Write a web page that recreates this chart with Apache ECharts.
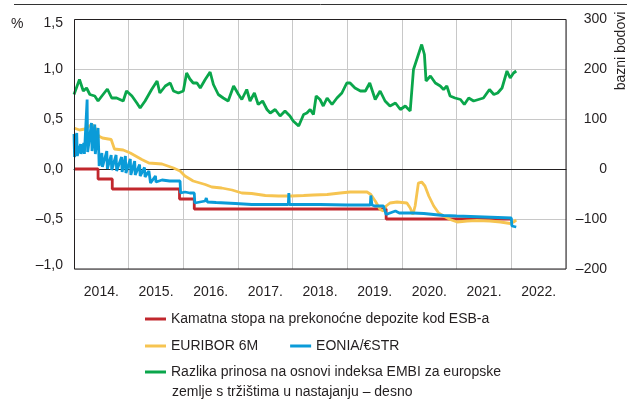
<!DOCTYPE html>
<html>
<head>
<meta charset="utf-8">
<script src="https://cdn.jsdelivr.net/npm/echarts@6.0.0/dist/echarts.min.js"></script>
<style>
  html, body { margin: 0; padding: 0; background: #fff; }
  #chart { width: 629px; height: 401px; }
</style>
</head>
<body>
<div id="chart"></div>
<script>
// year labels (one band per year)
var years = ['2014.', '2015.', '2016.', '2017.', '2018.', '2019.', '2020.', '2021.', '2022.'];

// [decimal year, %] ESB deposit facility rate (steps)
var depositRate = [
  [2014.00, 0], [2014.44, -0.1], [2014.70, -0.2], [2015.93, -0.3],
  [2016.20, -0.4], [2019.71, -0.5], [2022.01, -0.5]
];

// [decimal year, %] EURIBOR 6M
var euribor6m = [
  [2014.00, 0.41], [2014.10, 0.39], [2014.20, 0.40], [2014.28, 0.43], [2014.33, 0.445],
  [2014.38, 0.42], [2014.45, 0.33], [2014.52, 0.31], [2014.68, 0.295], [2014.74, 0.20],
  [2014.90, 0.19], [2015.03, 0.16], [2015.24, 0.095], [2015.37, 0.06], [2015.61, 0.05],
  [2015.82, 0.01], [2015.94, -0.02], [2016.03, -0.07], [2016.18, -0.12], [2016.40, -0.155],
  [2016.52, -0.18], [2016.70, -0.19], [2016.89, -0.21], [2017.07, -0.24], [2017.25, -0.245],
  [2017.50, -0.265], [2017.74, -0.27], [2017.98, -0.27], [2018.20, -0.265], [2018.38, -0.26],
  [2018.63, -0.255], [2018.87, -0.24], [2019.05, -0.23], [2019.36, -0.23], [2019.43, -0.255],
  [2019.51, -0.32], [2019.60, -0.405], [2019.66, -0.42], [2019.71, -0.37], [2019.78, -0.34],
  [2019.91, -0.33], [2020.09, -0.34], [2020.15, -0.39], [2020.20, -0.455], [2020.24, -0.37],
  [2020.30, -0.14], [2020.33, -0.12], [2020.36, -0.13], [2020.42, -0.17], [2020.49, -0.27],
  [2020.58, -0.37], [2020.67, -0.44], [2020.76, -0.47], [2020.88, -0.505], [2021.01, -0.53],
  [2021.19, -0.52], [2021.37, -0.515], [2021.61, -0.52], [2021.80, -0.53], [2021.98, -0.545],
  [2022.04, -0.53], [2022.09, -0.51]
];

// [decimal year, %] EONIA / €STR
var eonia = [
  [2014.00, 0.35], [2014.01, 0.12], [2014.05, 0.36], [2014.06, 0.13], [2014.12, 0.25],
  [2014.13, 0.15], [2014.18, 0.26], [2014.19, 0.15], [2014.24, 0.695], [2014.25, 0.17],
  [2014.32, 0.46], [2014.33, 0.18], [2014.38, 0.445], [2014.39, 0.15], [2014.44, 0.41],
  [2014.46, 0.03], [2014.51, 0.16], [2014.52, 0.02], [2014.60, 0.18], [2014.61, 0.0],
  [2014.68, 0.14], [2014.69, -0.01], [2014.77, 0.14], [2014.78, -0.02], [2014.87, 0.12],
  [2014.88, -0.03], [2014.94, 0.13], [2014.95, -0.04], [2015.03, 0.10], [2015.04, -0.06],
  [2015.11, 0.08], [2015.12, -0.06], [2015.20, 0.045], [2015.21, -0.07], [2015.29, 0.015],
  [2015.30, -0.08], [2015.37, -0.02], [2015.40, -0.14], [2015.49, -0.07], [2015.50, -0.13],
  [2015.61, -0.11], [2015.75, -0.12], [2015.94, -0.12], [2015.95, -0.24], [2016.03, -0.23],
  [2016.12, -0.24], [2016.20, -0.24], [2016.21, -0.34], [2016.40, -0.32], [2016.42, -0.29],
  [2016.44, -0.33], [2016.60, -0.335], [2016.95, -0.345], [2017.25, -0.355], [2017.92, -0.355],
  [2017.93, -0.24], [2017.94, -0.355], [2018.50, -0.355], [2019.00, -0.36], [2019.42, -0.36],
  [2019.43, -0.265], [2019.45, -0.36], [2019.50, -0.37], [2019.66, -0.37], [2019.71, -0.455],
  [2019.78, -0.44], [2019.88, -0.42], [2019.95, -0.44], [2020.20, -0.44], [2020.40, -0.445],
  [2020.76, -0.465], [2021.00, -0.47], [2021.50, -0.48], [2022.00, -0.49], [2022.01, -0.57],
  [2022.09, -0.58]
];

// [decimal year, basis points] EMBI spread, right axis
var embiSpread = [
  [2014.00, 149], [2014.10, 179], [2014.17, 156], [2014.23, 162], [2014.29, 149],
  [2014.38, 146], [2014.44, 136], [2014.51, 146], [2014.61, 160], [2014.69, 142],
  [2014.78, 142], [2014.90, 136], [2014.96, 156], [2015.06, 146], [2015.15, 132],
  [2015.21, 122], [2015.30, 136], [2015.42, 159], [2015.52, 176], [2015.57, 152],
  [2015.67, 166], [2015.76, 172], [2015.82, 156], [2015.91, 152], [2016.00, 156],
  [2016.06, 192], [2016.12, 180], [2016.18, 172], [2016.25, 172], [2016.31, 162],
  [2016.40, 179], [2016.49, 194], [2016.55, 169], [2016.64, 149], [2016.73, 142],
  [2016.82, 136], [2016.92, 166], [2017.01, 149], [2017.07, 139], [2017.16, 159],
  [2017.22, 136], [2017.30, 152], [2017.37, 129], [2017.45, 136], [2017.53, 119],
  [2017.59, 112], [2017.68, 119], [2017.77, 106], [2017.86, 116], [2017.95, 106],
  [2018.01, 96], [2018.11, 86], [2018.20, 109], [2018.26, 112], [2018.32, 119],
  [2018.38, 109], [2018.43, 146], [2018.50, 139], [2018.56, 126], [2018.63, 142],
  [2018.72, 129], [2018.81, 142], [2018.90, 152], [2018.99, 172], [2019.05, 172],
  [2019.14, 162], [2019.24, 156], [2019.33, 156], [2019.41, 172], [2019.51, 139],
  [2019.60, 156], [2019.69, 136], [2019.78, 126], [2019.88, 132], [2019.97, 119],
  [2020.06, 126], [2020.15, 116], [2020.21, 199], [2020.27, 219], [2020.33, 239],
  [2020.36, 249], [2020.41, 229], [2020.44, 176], [2020.52, 186], [2020.61, 172],
  [2020.70, 166], [2020.76, 159], [2020.82, 166], [2020.88, 146], [2020.97, 142],
  [2021.07, 139], [2021.14, 129], [2021.22, 142], [2021.31, 136], [2021.40, 139],
  [2021.49, 142], [2021.60, 159], [2021.68, 149], [2021.75, 152], [2021.83, 162],
  [2021.92, 196], [2021.98, 182], [2022.04, 192], [2022.09, 196]
];

var names = {
  rate: 'Kamatna stopa na prekonoćne depozite kod ESB-a',
  euribor: 'EURIBOR 6M',
  eonia: 'EONIA/€STR',
  embi: 'Razlika prinosa na osnovi indeksa EMBI za europske'
};
// legend text wraps onto a second line
var embiLine2 = 'zemlje s tržištima u nastajanju – desno';

var colors = { red: '#c1272d', yellow: '#f6c451', blue: '#0a9bd8', green: '#0aa64b' };
var ink = '#231f20';
var gridGray = '#c8c8c8';
var font = "'Liberation Sans', Arial, sans-serif";

function pct(v) {
  return (v < 0 ? '\u2013' : '') + Math.abs(v).toFixed(1).replace('.', ',');
}

var chart = echarts.init(document.getElementById('chart'));

var lineStyle = function (c) {
  return { width: 2.8, color: c };
};

var legendText = { color: ink, fontSize: 14, fontFamily: font };
var legendBase = { left: 145, padding: 0, icon: 'rect', itemWidth: 21, itemHeight: 3,
  textStyle: legendText, selectedMode: false };

chart.setOption({
  animation: false,
  textStyle: { fontFamily: font },
  grid: { left: 74, top: 19, width: 492, height: 250, show: false },
  graphic: [
    { type: 'line', shape: { x1: 14, y1: 4.5, x2: 627, y2: 4.5 }, style: { stroke: '#333', lineWidth: 1 } },
    { type: 'rect', z: 100, shape: { x: 74.5, y: 19.5, width: 491.5, height: 249.5 },
      style: { fill: 'none', stroke: ink, lineWidth: 1 } },
    { type: 'text', left: 11, top: 17, style: { text: '%', fill: ink, fontSize: 14, fontFamily: font } },
    { type: 'text', x: 621, y: 51, rotation: Math.PI / 2,
      style: { text: 'bazni bodovi', fill: ink, fontSize: 14, fontFamily: font, align: 'center', verticalAlign: 'middle' } },
    { type: 'text', left: 172, top: 385, style: { text: embiLine2, fill: ink, fontSize: 14, fontFamily: font } }
  ],
  legend: [
    Object.assign({}, legendBase, { data: [names.rate], top: 312 }),
    Object.assign({}, legendBase, { data: [names.euribor, names.eonia], top: 339, itemGap: 32 }),
    Object.assign({}, legendBase, { data: [names.embi], top: 365 })
  ],
  xAxis: [
    {
      type: 'value', min: 2014, max: 2023, position: 'bottom',
      axisLine: { show: true, onZero: true, lineStyle: { color: ink, width: 1 } },
      axisTick: { show: false }, axisLabel: { show: false }, splitLine: { show: false }
    },
    {
      type: 'category', data: years, boundaryGap: true, position: 'bottom', offset: 0,
      axisLine: { show: false }, axisTick: { show: false },
      axisLabel: { color: ink, fontSize: 14, margin: 16, fontFamily: font },
      splitLine: { show: true, lineStyle: { color: gridGray, width: 1 } }
    }
  ],
  yAxis: [
    {
      type: 'value', min: -1, max: 1.5, interval: 0.5, position: 'left',
      axisLine: { show: false }, axisTick: { show: false },
      splitLine: { show: true, lineStyle: { color: gridGray, width: 1 } },
      axisLabel: {
        color: ink, fontSize: 14, margin: 11, fontFamily: font,
        formatter: function (v) {
          if (v === 1.5) return '{a|' + pct(v) + '}';
          if (v === -1) return '{b|' + pct(v) + '}';
          return pct(v);
        },
        rich: {
          a: { color: ink, fontSize: 14, fontFamily: font, padding: [8, 0, 0, 0] },
          b: { color: ink, fontSize: 14, fontFamily: font, padding: [0, 0, 7, 0] }
        }
      }
    },
    {
      type: 'value', min: -200, max: 300, interval: 100, position: 'right',
      axisLine: { show: false }, axisTick: { show: false }, splitLine: { show: false },
      axisLabel: {
        color: ink, fontSize: 14, margin: 41, align: 'right', fontFamily: font,
        formatter: function (v) { return (v < 0 ? '\u2013' : '') + Math.abs(v); }
      }
    }
  ],
  series: [
    { name: names.rate, type: 'line', step: 'end', xAxisIndex: 0, yAxisIndex: 0, data: depositRate,
      showSymbol: false, color: colors.red, lineStyle: lineStyle(colors.red) },
    { name: names.euribor, type: 'line', xAxisIndex: 0, yAxisIndex: 0, data: euribor6m,
      showSymbol: false, color: colors.yellow, lineStyle: lineStyle(colors.yellow) },
    { name: names.eonia, type: 'line', xAxisIndex: 0, yAxisIndex: 0, data: eonia,
      showSymbol: false, color: colors.blue, lineStyle: lineStyle(colors.blue) },
    { name: names.embi, type: 'line', xAxisIndex: 0, yAxisIndex: 1, data: embiSpread,
      showSymbol: false, color: colors.green, lineStyle: lineStyle(colors.green) }
  ]
});
</script>
</body>
</html>
